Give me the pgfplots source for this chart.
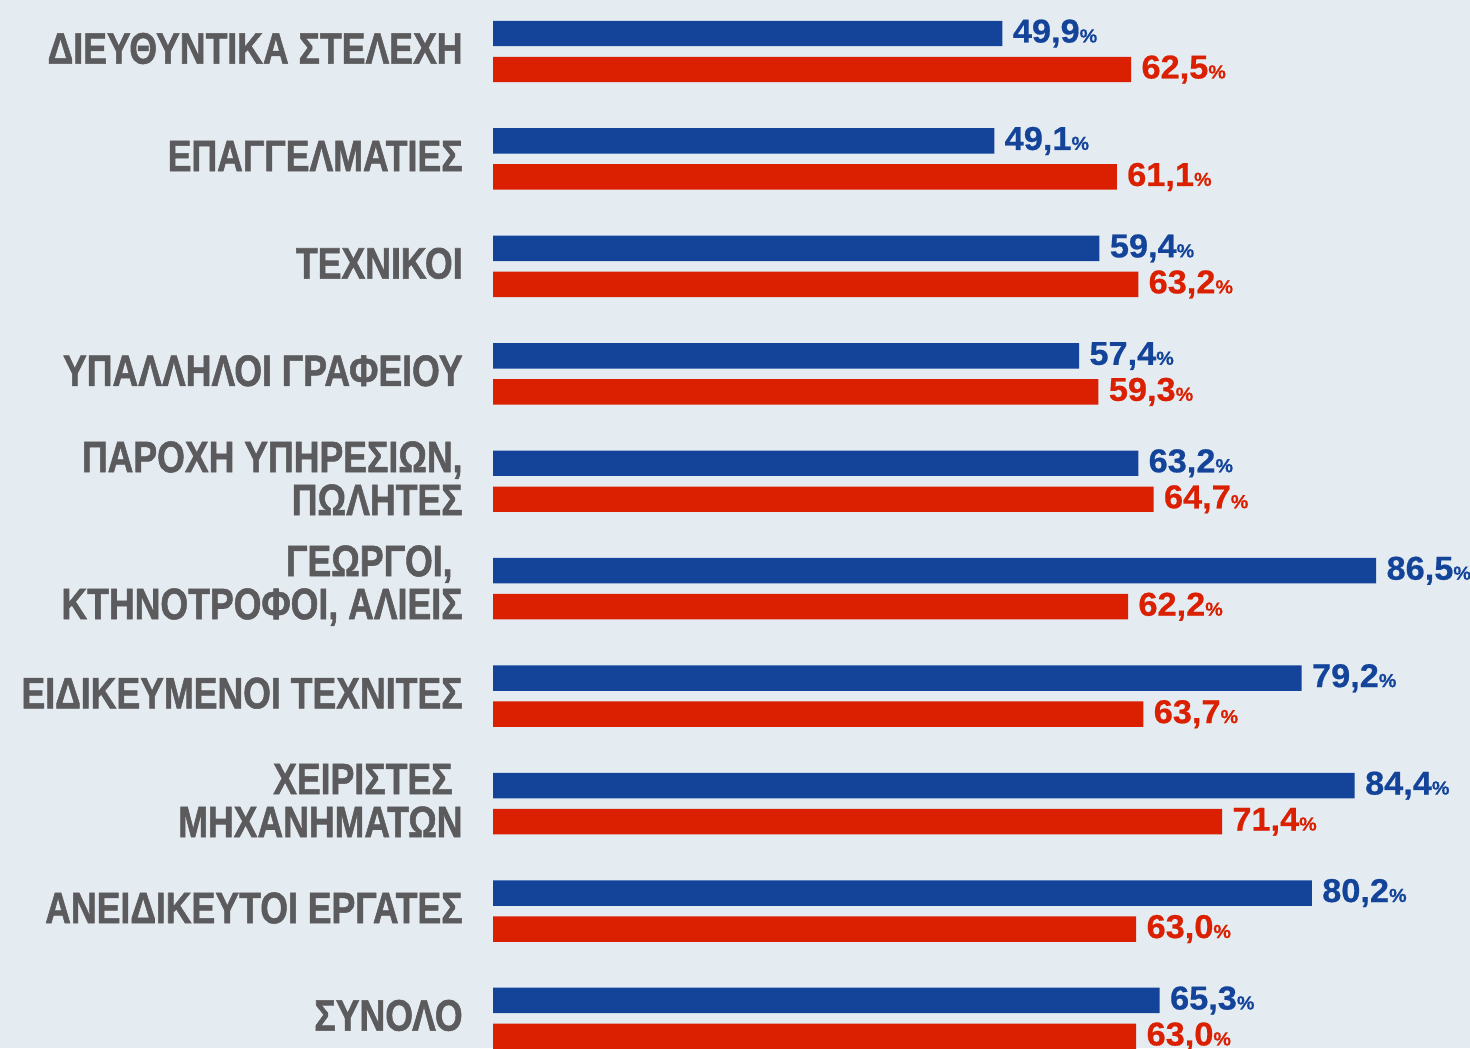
\documentclass[border=0pt]{standalone}
\usepackage{pgfplots}
\pgfplotsset{compat=1.18}
\usepackage{fontspec}
\setmainfont{Liberation Sans}
\newfontfamily\catfont{Liberation Sans Bold}[FakeStretch=0.81, FakeBold=1.2]
\newfontfamily\valfont{Liberation Sans Bold}[FakeStretch=1.04, FakeBold=0.6]
\definecolor{bg}{HTML}{E4EBF1}
\definecolor{cblue}{HTML}{13449A}
\definecolor{cred}{HTML}{DA2000}
\definecolor{cgray}{HTML}{5B5B5D}
\begin{document}
\begin{tikzpicture}
\path[use as bounding box, fill=bg] (0,0) rectangle (735pt,524pt);
\clip (0,0) rectangle (735pt,524pt);
\begin{axis}[
  at={(246.5pt,0pt)}, anchor=south west,
  scale only axis, width=488.5pt, height=524pt,
  xmin=0, xmax=95.69, ymin=-0.4793, ymax=9.275,
  y dir=reverse,
  xbar, bar width=0.237,
  axis line style={draw=none},
  xtick=\empty,
  ytick={0,1,2,3,4,5,6,7,8,9},
  yticklabels={
    {ΔΙΕΥΘΥΝΤΙΚΑ ΣΤΕΛΕΧΗ},
    {ΕΠΑΓΓΕΛΜΑΤΙΕΣ},
    {ΤΕΧΝΙΚΟΙ},
    {ΥΠΑΛΛΗΛΟΙ ΓΡΑΦΕΙΟΥ},
    {ΠΑΡΟΧΗ ΥΠΗΡΕΣΙΩΝ,\\ΠΩΛΗΤΕΣ},
    {ΓΕΩΡΓΟΙ,\hspace*{5pt}\\ΚΤΗΝΟΤΡΟΦΟΙ, ΑΛΙΕΙΣ},
    {ΕΙΔΙΚΕΥΜΕΝΟΙ ΤΕΧΝΙΤΕΣ},
    {ΧΕΙΡΙΣΤΕΣ\hspace*{5pt}\\ΜΗΧΑΝΗΜΑΤΩΝ},
    {ΑΝΕΙΔΙΚΕΥΤΟΙ ΕΡΓΑΤΕΣ},
    {ΣΥΝΟΛΟ}},
  major tick length=0pt,
  yticklabel style={font=\catfont\fontsize{22}{21.5}\selectfont, text=cgray, align=right, inner sep=0pt, xshift=-15pt, yshift=1.5pt},
  clip=false,
  nodes near coords={\pgfmathprintnumber[fixed,fixed zerofill,precision=1,use comma,assume math mode=true]{\pgfplotspointmeta}{\fontsize{9.5}{10}\selectfont\%}},
  every node near coord/.append style={font=\valfont\fontsize{16.5}{17}\selectfont, anchor=base west, inner sep=0pt, xshift=5pt, yshift=-4.5pt},
]
\addplot[fill=cblue, draw=none, bar shift=-0.1675, every node near coord/.append style={text=cblue}] coordinates {
  (49.9,0) (49.1,1) (59.4,2) (57.4,3) (63.2,4) (86.5,5) (79.2,6) (84.4,7) (80.2,8) (65.3,9)};
\addplot[fill=cred, draw=none, bar shift=0.1675, every node near coord/.append style={text=cred}] coordinates {
  (62.5,0) (61.1,1) (63.2,2) (59.3,3) (64.7,4) (62.2,5) (63.7,6) (71.4,7) (63.0,8) (63.0,9)};
\end{axis}
\end{tikzpicture}
\end{document}
